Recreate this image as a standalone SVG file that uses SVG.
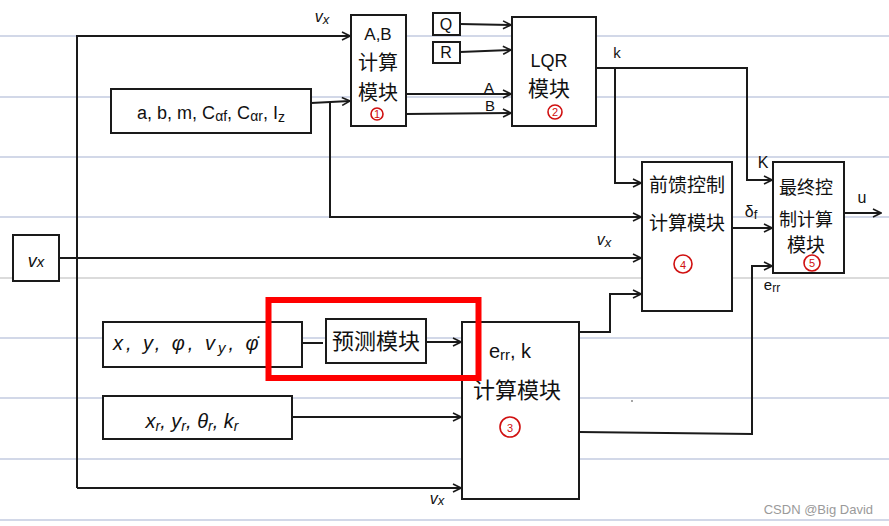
<svg xmlns="http://www.w3.org/2000/svg" width="889" height="526" viewBox="0 0 889 526">
<defs>
<marker id="arr" viewBox="0 0 10 10" refX="9" refY="5" markerWidth="10" markerHeight="10" markerUnits="userSpaceOnUse" orient="auto">
<path d="M1,1 L9,5 L1,9" fill="none" stroke="#1a1a1a" stroke-width="1.6"/>
</marker>
<style>
.rule{stroke:#c3cbe0;stroke-width:1.5}
.rule2{stroke:#cfcfcf;stroke-width:1.5}
.box{fill:#fff;stroke:#1a1a1a;stroke-width:2}
.ln{fill:none;stroke:#1a1a1a;stroke-width:2}
.t{font-family:"Liberation Sans","Noto Sans CJK SC",sans-serif;fill:#111;text-anchor:middle}
.z{font-family:"Noto Sans CJK SC","Liberation Sans",sans-serif;fill:#111;text-anchor:middle}
.num{fill:none;stroke:#d01010;stroke-width:1.6}
.nt{font-family:"Liberation Sans",sans-serif;fill:#d01010;text-anchor:middle;font-size:11px}
</style>
</defs>
<rect width="889" height="526" fill="#fff"/>
<g id="rules">
<line class="rule" x1="0" y1="36" x2="889" y2="36"/>
<line class="rule" x1="0" y1="97" x2="889" y2="97"/>
<line class="rule" x1="0" y1="157" x2="889" y2="157"/>
<line class="rule" x1="0" y1="217" x2="889" y2="217"/>
<line class="rule2" x1="0" y1="278" x2="889" y2="278"/>
<line class="rule" x1="0" y1="338" x2="889" y2="338"/>
<line class="rule" x1="0" y1="398" x2="889" y2="398"/>
<line class="rule" x1="0" y1="459" x2="889" y2="459"/>
<line class="rule" x1="0" y1="520" x2="889" y2="520"/>
</g>
<g id="connectors">
<polyline class="ln" points="77,488 77,36 350,36" marker-end="url(#arr)"/>
<line class="ln" x1="77" y1="488" x2="461" y2="488" marker-end="url(#arr)"/>
<line class="ln" x1="311" y1="103" x2="350" y2="101" marker-end="url(#arr)"/>
<polyline class="ln" points="330,103 330,217 641,217" marker-end="url(#arr)"/>
<line class="ln" x1="460" y1="24" x2="511" y2="25" marker-end="url(#arr)"/>
<line class="ln" x1="460" y1="52" x2="511" y2="50" marker-end="url(#arr)"/>
<line class="ln" x1="406" y1="94" x2="511" y2="94" marker-end="url(#arr)"/>
<line class="ln" x1="406" y1="114" x2="511" y2="113" marker-end="url(#arr)"/>
<polyline class="ln" points="596,68 747,68 747,180 772,180" marker-end="url(#arr)"/>
<polyline class="ln" points="615,68 615,183 641,183" marker-end="url(#arr)"/>
<line class="ln" x1="59" y1="258" x2="641" y2="258" marker-end="url(#arr)"/>
<polyline class="ln" points="579,332 610,332 610,294 641,294" marker-end="url(#arr)"/>
<line class="ln" x1="732" y1="228" x2="772" y2="228" marker-end="url(#arr)"/>
<polyline class="ln" points="579,432 752,434 752,266 772,266" marker-end="url(#arr)"/>
<line class="ln" x1="844" y1="213" x2="881" y2="213" marker-end="url(#arr)"/>
<line class="ln" x1="302" y1="343" x2="323" y2="343"/>
<line class="ln" x1="426" y1="342" x2="461" y2="342" marker-end="url(#arr)"/>
<line class="ln" x1="292" y1="417" x2="461" y2="417" marker-end="url(#arr)"/>
</g>
<g id="labels">
<text class="t" x="322" y="22" font-size="16" font-style="italic">v<tspan font-size="13" dy="2">x</tspan></text>
<text class="t" x="489" y="93" font-size="15">A</text>
<text class="t" x="490" y="111" font-size="15">B</text>
<text class="t" x="617" y="58" font-size="15">k</text>
<text class="t" x="763" y="168" font-size="16">K</text>
<text class="t" x="751" y="217" font-size="16">δ<tspan font-size="13" dy="2">f</tspan></text>
<text class="t" x="862" y="203" font-size="16">u</text>
<text class="t" x="604" y="245" font-size="16" font-style="italic">v<tspan font-size="13" dy="2">x</tspan></text>
<text class="t" x="772" y="290" font-size="15">e<tspan font-size="12" dy="2">rr</tspan></text>
<text class="t" x="437" y="504" font-size="16" font-style="italic">v<tspan font-size="13" dy="1">x</tspan></text>
</g>
<g id="node-vx">
<rect class="box" x="13" y="235" width="46" height="46"/>
<text class="t" x="36" y="267" font-size="18" font-style="italic">v<tspan font-size="15">x</tspan></text>
</g>
<g id="node-params">
<rect class="box" x="111" y="89" width="200" height="44"/>
<text class="t" x="211" y="119" font-size="18">a, b, m, C<tspan font-size="14" dy="2">αf</tspan><tspan dy="-2">, C</tspan><tspan font-size="14" dy="2">αr</tspan><tspan dy="-2">, I</tspan><tspan font-size="14" dy="3">z</tspan></text>
</g>
<g id="node-ab">
<rect class="box" x="351" y="15" width="55" height="111"/>
<text class="t" x="378" y="40" font-size="17">A,B</text>
<text class="z" x="378" y="70" font-size="20">计算</text>
<text class="z" x="378" y="100" font-size="20">模块</text>
<circle class="num" cx="377" cy="114" r="6"/>
<text class="nt" x="377" y="118">1</text>
</g>
<g id="node-q">
<rect class="box" x="433" y="13" width="27" height="22"/>
<text class="t" x="446" y="30" font-size="16">Q</text>
</g>
<g id="node-r">
<rect class="box" x="433" y="42" width="27" height="21"/>
<text class="t" x="446" y="58" font-size="16">R</text>
</g>
<g id="node-lqr">
<rect class="box" x="512" y="17" width="84" height="109"/>
<text class="t" x="549" y="67" font-size="18">LQR</text>
<text class="z" x="549" y="96" font-size="21">模块</text>
<circle class="num" cx="555" cy="112" r="7"/>
<text class="nt" x="555" y="116">2</text>
</g>
<g id="node-ff">
<rect class="box" x="642" y="162" width="90" height="149"/>
<text class="z" x="687" y="192" font-size="19">前馈控制</text>
<text class="z" x="687" y="230" font-size="19">计算模块</text>
<circle class="num" cx="683" cy="264" r="9"/>
<text class="nt" x="683" y="269" font-size="13">4</text>
</g>
<g id="node-final">
<rect class="box" x="773" y="162" width="71" height="111"/>
<text class="z" x="806" y="194" font-size="18">最终控</text>
<text class="z" x="806" y="226" font-size="18">制计算</text>
<text class="z" x="806" y="252" font-size="19">模块</text>
<circle class="num" cx="812" cy="263" r="8"/>
<text class="nt" x="812" y="267" font-size="12">5</text>
</g>
<g id="node-state">
<rect class="box" x="103" y="322" width="199" height="45"/>
<text class="t" x="113" y="350" font-size="20" font-style="italic" style="text-anchor:start" letter-spacing="3">x, y, φ, v<tspan font-size="15" dy="3">y</tspan><tspan dy="-3">, φ̇</tspan></text>
</g>
<g id="node-predict">
<rect class="box" x="326" y="319" width="100" height="44"/>
<text class="z" x="376" y="349" font-size="22">预测模块</text>
</g>
<g id="node-ref">
<rect class="box" x="103" y="396" width="189" height="43"/>
<text class="t" x="192" y="428" font-size="20" font-style="italic">x<tspan font-size="14" dy="3">r</tspan><tspan dy="-3">, y</tspan><tspan font-size="14" dy="3">r</tspan><tspan dy="-3">, θ</tspan><tspan font-size="14" dy="3">r</tspan><tspan dy="-3">, k</tspan><tspan font-size="14" dy="3">r</tspan></text>
</g>
<g id="node-err">
<rect class="box" x="462" y="322" width="117" height="177"/>
<text class="t" x="510" y="358" font-size="20">e<tspan font-size="15" dy="2">rr</tspan><tspan dy="-2">, k</tspan></text>
<text class="z" x="517" y="398" font-size="22">计算模块</text>
<circle class="num" cx="510" cy="427" r="10"/>
<text class="nt" x="510" y="432" font-size="14">3</text>
</g>
<g id="highlight">
<rect x="268.5" y="300" width="210" height="78" fill="none" stroke="#ff0000" stroke-width="6"/>
</g>
<circle cx="632" cy="401" r="1" fill="#888"/>
<text x="873" y="514" font-family="'Liberation Sans',sans-serif" font-size="13" fill="#9a9a9a" text-anchor="end">CSDN @Big David</text>
</svg>
